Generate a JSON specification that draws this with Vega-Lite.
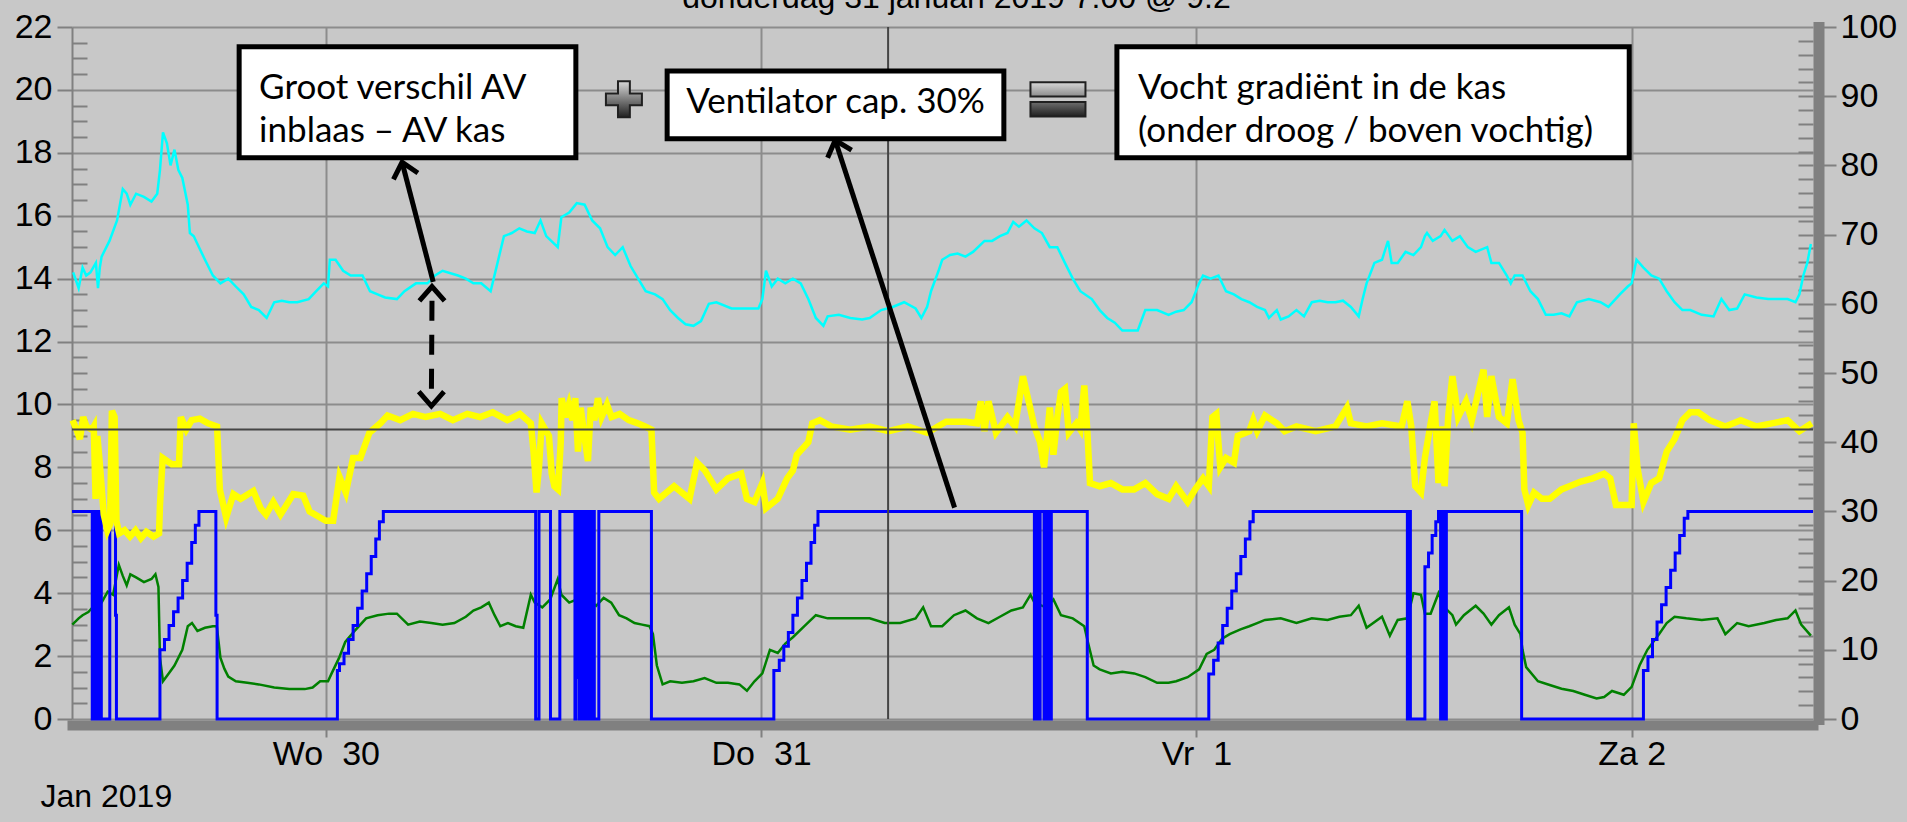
{
"$schema": "https://vega.github.io/schema/vega-lite/v6.json",
"autosize": {"type": "none"},
"width": 1741,
"height": 692,
"padding": {"left": 72, "top": 27, "right": 94, "bottom": 103},
"background": "#c8c8c8",
"title": {"text": "donderdag 31 januari 2019 7:00 @ 9.2", "font": "Liberation Sans", "fontSize": 32, "fontWeight": "normal", "color": "#000000", "anchor": "middle", "frame": "group", "baseline": "alphabetic", "offset": 0, "dy": 30, "dx": 14},
"config": {"view": {"stroke": null}, "font": "Liberation Sans", "axis": {"labelFont": "Liberation Sans", "labelFontSize": 34, "labelColor": "#000000", "titleFont": "Liberation Sans"}},
"datasets": {
"cyan": [
{"t":"2019-01-29T10:04","v":14.2},{"t":"2019-01-29T10:22","v":13.7},{"t":"2019-01-29T10:35","v":14.35},{"t":"2019-01-29T10:47","v":14.1},{"t":"2019-01-29T11:01","v":14.2},{"t":"2019-01-29T11:19","v":14.5},{"t":"2019-01-29T11:26","v":13.7},{"t":"2019-01-29T11:32","v":14.35},{"t":"2019-01-29T11:38","v":14.7},{"t":"2019-01-29T12:04","v":15.2},{"t":"2019-01-29T12:29","v":15.85},{"t":"2019-01-29T12:48","v":16.85},{"t":"2019-01-29T13:01","v":16.7},{"t":"2019-01-29T13:13","v":16.35},{"t":"2019-01-29T13:32","v":16.7},{"t":"2019-01-29T13:58","v":16.6},{"t":"2019-01-29T14:23","v":16.45},{"t":"2019-01-29T14:42","v":16.7},{"t":"2019-01-29T14:51","v":17.45},{"t":"2019-01-29T15:01","v":18.65},{"t":"2019-01-29T15:14","v":18.3},{"t":"2019-01-29T15:26","v":17.6},{"t":"2019-01-29T15:39","v":18.1},{"t":"2019-01-29T15:52","v":17.45},{"t":"2019-01-29T16:05","v":17.2},{"t":"2019-01-29T16:23","v":16.35},{"t":"2019-01-29T16:30","v":15.45},{"t":"2019-01-29T16:43","v":15.35},{"t":"2019-01-29T16:55","v":15.1},{"t":"2019-01-29T17:20","v":14.6},{"t":"2019-01-29T17:46","v":14.1},{"t":"2019-01-29T18:11","v":13.85},{"t":"2019-01-29T18:37","v":14.0},{"t":"2019-01-29T19:02","v":13.75},{"t":"2019-01-29T19:28","v":13.5},{"t":"2019-01-29T19:53","v":13.1},{"t":"2019-01-29T20:18","v":13.0},{"t":"2019-01-29T20:44","v":12.75},{"t":"2019-01-29T21:09","v":13.25},{"t":"2019-01-29T21:34","v":13.3},{"t":"2019-01-29T21:59","v":13.25},{"t":"2019-01-29T22:25","v":13.25},{"t":"2019-01-29T23:03","v":13.35},{"t":"2019-01-29T23:28","v":13.6},{"t":"2019-01-29T23:53","v":13.85},
{"t":"2019-01-30T00:07","v":13.75},{"t":"2019-01-30T00:13","v":14.6},{"t":"2019-01-30T00:32","v":14.6},{"t":"2019-01-30T00:57","v":14.25},{"t":"2019-01-30T01:22","v":14.1},{"t":"2019-01-30T02:01","v":14.1},{"t":"2019-01-30T02:26","v":13.6},{"t":"2019-01-30T02:51","v":13.5},{"t":"2019-01-30T03:16","v":13.4},{"t":"2019-01-30T03:55","v":13.35},{"t":"2019-01-30T04:20","v":13.6},{"t":"2019-01-30T04:58","v":13.85},{"t":"2019-01-30T05:36","v":13.85},{"t":"2019-01-30T06:01","v":14.1},{"t":"2019-01-30T06:26","v":14.25},{"t":"2019-01-30T07:17","v":14.1},{"t":"2019-01-30T07:43","v":14.0},{"t":"2019-01-30T08:08","v":13.85},{"t":"2019-01-30T08:34","v":13.85},{"t":"2019-01-30T09:05","v":13.6},{"t":"2019-01-30T09:24","v":14.35},{"t":"2019-01-30T09:49","v":15.35},{"t":"2019-01-30T10:15","v":15.45},{"t":"2019-01-30T10:40","v":15.6},{"t":"2019-01-30T11:05","v":15.5},{"t":"2019-01-30T11:31","v":15.45},{"t":"2019-01-30T11:50","v":15.85},{"t":"2019-01-30T12:09","v":15.35},{"t":"2019-01-30T12:47","v":15.0},{"t":"2019-01-30T12:59","v":15.95},{"t":"2019-01-30T13:25","v":16.1},{"t":"2019-01-30T13:50","v":16.4},{"t":"2019-01-30T14:16","v":16.35},{"t":"2019-01-30T14:41","v":15.85},{"t":"2019-01-30T15:07","v":15.6},{"t":"2019-01-30T15:32","v":15.0},{"t":"2019-01-30T15:57","v":14.75},{"t":"2019-01-30T16:22","v":15.0},{"t":"2019-01-30T16:48","v":14.4},{"t":"2019-01-30T17:13","v":14.0},{"t":"2019-01-30T17:38","v":13.6},{"t":"2019-01-30T18:09","v":13.5},{"t":"2019-01-30T18:34","v":13.35},{"t":"2019-01-30T18:59","v":13.0},{"t":"2019-01-30T19:25","v":12.75},{"t":"2019-01-30T19:50","v":12.55},{"t":"2019-01-30T20:16","v":12.5},{"t":"2019-01-30T20:41","v":12.65},{"t":"2019-01-30T21:07","v":13.2},{"t":"2019-01-30T21:32","v":13.25},{"t":"2019-01-30T22:22","v":13.05},{"t":"2019-01-30T23:13","v":13.05},{"t":"2019-01-30T23:51","v":13.05},
{"t":"2019-01-31T00:04","v":13.35},{"t":"2019-01-31T00:16","v":14.25},{"t":"2019-01-31T00:35","v":13.75},{"t":"2019-01-31T00:55","v":14.0},{"t":"2019-01-31T01:20","v":13.85},{"t":"2019-01-31T01:45","v":14.0},{"t":"2019-01-31T02:11","v":13.85},{"t":"2019-01-31T02:36","v":13.35},{"t":"2019-01-31T03:01","v":12.75},{"t":"2019-01-31T03:26","v":12.5},{"t":"2019-01-31T03:40","v":12.8},{"t":"2019-01-31T04:17","v":12.85},{"t":"2019-01-31T04:55","v":12.75},{"t":"2019-01-31T05:34","v":12.7},{"t":"2019-01-31T05:59","v":12.75},{"t":"2019-01-31T06:37","v":13.0},{"t":"2019-01-31T07:15","v":13.1},{"t":"2019-01-31T07:53","v":13.25},{"t":"2019-01-31T08:31","v":13.05},{"t":"2019-01-31T08:50","v":12.75},{"t":"2019-01-31T09:09","v":13.1},{"t":"2019-01-31T09:22","v":13.6},{"t":"2019-01-31T09:47","v":14.25},{"t":"2019-01-31T09:59","v":14.6},{"t":"2019-01-31T10:25","v":14.75},{"t":"2019-01-31T10:50","v":14.8},{"t":"2019-01-31T11:16","v":14.7},{"t":"2019-01-31T11:41","v":14.85},{"t":"2019-01-31T12:19","v":15.2},{"t":"2019-01-31T12:44","v":15.2},{"t":"2019-01-31T13:10","v":15.35},{"t":"2019-01-31T13:35","v":15.45},{"t":"2019-01-31T13:54","v":15.8},{"t":"2019-01-31T14:13","v":15.65},{"t":"2019-01-31T14:38","v":15.85},{"t":"2019-01-31T15:04","v":15.6},{"t":"2019-01-31T15:29","v":15.45},{"t":"2019-01-31T15:55","v":15.0},{"t":"2019-01-31T16:20","v":15.0},{"t":"2019-01-31T16:45","v":14.5},{"t":"2019-01-31T17:11","v":14.0},{"t":"2019-01-31T17:36","v":13.6},{"t":"2019-01-31T18:14","v":13.35},{"t":"2019-01-31T18:40","v":13.0},{"t":"2019-01-31T19:05","v":12.75},{"t":"2019-01-31T19:30","v":12.6},{"t":"2019-01-31T19:55","v":12.35},{"t":"2019-01-31T20:21","v":12.35},{"t":"2019-01-31T20:46","v":12.35},{"t":"2019-01-31T21:11","v":13.0},{"t":"2019-01-31T21:50","v":13.0},{"t":"2019-01-31T22:28","v":12.85},{"t":"2019-01-31T22:53","v":12.95},{"t":"2019-01-31T23:18","v":13.0},{"t":"2019-01-31T23:44","v":13.25},
{"t":"2019-02-01T00:09","v":13.85},{"t":"2019-02-01T00:22","v":14.1},{"t":"2019-02-01T00:47","v":14.0},{"t":"2019-02-01T01:13","v":14.1},{"t":"2019-02-01T01:38","v":13.6},{"t":"2019-02-01T02:04","v":13.5},{"t":"2019-02-01T02:29","v":13.35},{"t":"2019-02-01T02:55","v":13.25},{"t":"2019-02-01T03:21","v":13.1},{"t":"2019-02-01T03:47","v":13.0},{"t":"2019-02-01T04:00","v":12.75},{"t":"2019-02-01T04:26","v":13.0},{"t":"2019-02-01T04:39","v":12.7},{"t":"2019-02-01T05:05","v":12.8},{"t":"2019-02-01T05:31","v":13.0},{"t":"2019-02-01T05:56","v":12.8},{"t":"2019-02-01T06:22","v":13.25},{"t":"2019-02-01T06:48","v":13.3},{"t":"2019-02-01T07:14","v":13.25},{"t":"2019-02-01T07:40","v":13.25},{"t":"2019-02-01T08:05","v":13.3},{"t":"2019-02-01T08:31","v":13.1},{"t":"2019-02-01T08:57","v":12.8},{"t":"2019-02-01T09:10","v":13.35},{"t":"2019-02-01T09:23","v":13.85},{"t":"2019-02-01T09:49","v":14.5},{"t":"2019-02-01T10:14","v":14.6},{"t":"2019-02-01T10:34","v":15.2},{"t":"2019-02-01T10:46","v":14.5},{"t":"2019-02-01T11:06","v":14.5},{"t":"2019-02-01T11:32","v":14.85},{"t":"2019-02-01T11:58","v":14.75},{"t":"2019-02-01T12:23","v":15.0},{"t":"2019-02-01T12:36","v":15.35},{"t":"2019-02-01T12:43","v":15.45},{"t":"2019-02-01T13:02","v":15.2},{"t":"2019-02-01T13:28","v":15.35},{"t":"2019-02-01T13:41","v":15.55},{"t":"2019-02-01T14:07","v":15.2},{"t":"2019-02-01T14:32","v":15.35},{"t":"2019-02-01T14:58","v":15.0},{"t":"2019-02-01T15:24","v":14.85},{"t":"2019-02-01T16:02","v":15.0},{"t":"2019-02-01T16:16","v":14.5},{"t":"2019-02-01T16:41","v":14.5},{"t":"2019-02-01T17:07","v":14.1},{"t":"2019-02-01T17:20","v":13.85},{"t":"2019-02-01T17:33","v":14.1},{"t":"2019-02-01T17:59","v":14.1},{"t":"2019-02-01T18:25","v":13.6},{"t":"2019-02-01T18:50","v":13.35},{"t":"2019-02-01T19:16","v":12.85},{"t":"2019-02-01T19:42","v":12.85},{"t":"2019-02-01T20:08","v":12.9},{"t":"2019-02-01T20:34","v":12.8},{"t":"2019-02-01T20:59","v":13.25},{"t":"2019-02-01T21:38","v":13.35},{"t":"2019-02-01T22:17","v":13.25},{"t":"2019-02-01T22:43","v":13.1},{"t":"2019-02-01T23:21","v":13.5},{"t":"2019-02-01T23:47","v":13.75},
{"t":"2019-02-02T00:00","v":13.85},{"t":"2019-02-02T00:16","v":14.6},{"t":"2019-02-02T00:39","v":14.35},{"t":"2019-02-02T01:05","v":14.1},{"t":"2019-02-02T01:31","v":14.0},{"t":"2019-02-02T01:56","v":13.6},{"t":"2019-02-02T02:22","v":13.25},{"t":"2019-02-02T02:48","v":13.0},{"t":"2019-02-02T03:14","v":13.0},{"t":"2019-02-02T03:52","v":12.85},{"t":"2019-02-02T04:31","v":12.8},{"t":"2019-02-02T04:57","v":13.35},{"t":"2019-02-02T05:23","v":13.0},{"t":"2019-02-02T05:49","v":13.05},{"t":"2019-02-02T06:14","v":13.5},{"t":"2019-02-02T06:53","v":13.4},{"t":"2019-02-02T07:32","v":13.35},{"t":"2019-02-02T08:10","v":13.35},{"t":"2019-02-02T08:36","v":13.35},{"t":"2019-02-02T09:02","v":13.25},{"t":"2019-02-02T09:15","v":13.5},{"t":"2019-02-02T09:28","v":14.1},{"t":"2019-02-02T09:41","v":14.5},{"t":"2019-02-02T09:53","v":15.1}
],
"yellow": [
{"t":"2019-01-29T10:02","v":9.5},{"t":"2019-01-29T10:15","v":9.2},{"t":"2019-01-29T10:26","v":8.9},{"t":"2019-01-29T10:37","v":9.6},{"t":"2019-01-29T10:48","v":9.3},{"t":"2019-01-29T11:06","v":9.2},{"t":"2019-01-29T11:12","v":9.3},{"t":"2019-01-29T11:18","v":7.0},{"t":"2019-01-29T11:24","v":9.0},{"t":"2019-01-29T11:33","v":8.0},{"t":"2019-01-29T11:45","v":6.5},{"t":"2019-01-29T11:57","v":6.0},{"t":"2019-01-29T12:06","v":6.2},{"t":"2019-01-29T12:12","v":9.8},{"t":"2019-01-29T12:21","v":9.6},{"t":"2019-01-29T12:27","v":6.3},{"t":"2019-01-29T12:36","v":5.9},{"t":"2019-01-29T12:54","v":6.0},{"t":"2019-01-29T13:12","v":5.8},{"t":"2019-01-29T13:30","v":6.0},{"t":"2019-01-29T13:48","v":5.75},{"t":"2019-01-29T14:06","v":5.95},{"t":"2019-01-29T14:30","v":5.8},{"t":"2019-01-29T14:48","v":5.9},{"t":"2019-01-29T14:51","v":6.8},{"t":"2019-01-29T15:00","v":8.3},{"t":"2019-01-29T15:30","v":8.1},{"t":"2019-01-29T15:54","v":8.1},{"t":"2019-01-29T16:00","v":9.6},{"t":"2019-01-29T16:18","v":9.2},{"t":"2019-01-29T16:36","v":9.5},{"t":"2019-01-29T17:03","v":9.55},{"t":"2019-01-29T17:30","v":9.4},{"t":"2019-01-29T18:00","v":9.3},{"t":"2019-01-29T18:09","v":7.3},{"t":"2019-01-29T18:30","v":6.4},{"t":"2019-01-29T18:54","v":7.15},{"t":"2019-01-29T19:18","v":7.0},{"t":"2019-01-29T20:00","v":7.25},{"t":"2019-01-29T20:24","v":6.7},{"t":"2019-01-29T20:42","v":6.5},{"t":"2019-01-29T21:06","v":6.9},{"t":"2019-01-29T21:30","v":6.5},{"t":"2019-01-29T22:12","v":7.15},{"t":"2019-01-29T22:45","v":7.1},{"t":"2019-01-29T23:06","v":6.6},{"t":"2019-01-29T23:42","v":6.4},
{"t":"2019-01-30T00:00","v":6.3},{"t":"2019-01-30T00:24","v":6.3},{"t":"2019-01-30T00:45","v":7.7},{"t":"2019-01-30T01:06","v":7.2},{"t":"2019-01-30T01:30","v":8.3},{"t":"2019-01-30T01:54","v":8.3},{"t":"2019-01-30T02:24","v":9.1},{"t":"2019-01-30T03:00","v":9.4},{"t":"2019-01-30T03:24","v":9.65},{"t":"2019-01-30T04:06","v":9.5},{"t":"2019-01-30T04:48","v":9.7},{"t":"2019-01-30T05:30","v":9.6},{"t":"2019-01-30T06:18","v":9.7},{"t":"2019-01-30T07:00","v":9.5},{"t":"2019-01-30T07:48","v":9.7},{"t":"2019-01-30T08:30","v":9.6},{"t":"2019-01-30T09:12","v":9.75},{"t":"2019-01-30T10:00","v":9.5},{"t":"2019-01-30T10:42","v":9.7},{"t":"2019-01-30T11:18","v":9.4},{"t":"2019-01-30T11:27","v":8.5},{"t":"2019-01-30T11:37","v":7.2},{"t":"2019-01-30T11:45","v":8.0},{"t":"2019-01-30T11:54","v":9.4},{"t":"2019-01-30T12:06","v":9.2},{"t":"2019-01-30T12:18","v":9.0},{"t":"2019-01-30T12:27","v":7.8},{"t":"2019-01-30T12:36","v":7.4},{"t":"2019-01-30T12:48","v":7.3},{"t":"2019-01-30T12:57","v":8.8},{"t":"2019-01-30T13:00","v":10.2},{"t":"2019-01-30T13:12","v":9.6},{"t":"2019-01-30T13:24","v":10.0},{"t":"2019-01-30T13:36","v":9.5},{"t":"2019-01-30T13:45","v":10.2},{"t":"2019-01-30T13:54","v":8.5},{"t":"2019-01-30T14:03","v":9.9},{"t":"2019-01-30T14:15","v":9.0},{"t":"2019-01-30T14:27","v":8.2},{"t":"2019-01-30T14:36","v":9.9},{"t":"2019-01-30T14:48","v":9.5},{"t":"2019-01-30T15:00","v":10.2},{"t":"2019-01-30T15:12","v":9.6},{"t":"2019-01-30T15:30","v":10.0},{"t":"2019-01-30T15:45","v":9.6},{"t":"2019-01-30T16:12","v":9.7},{"t":"2019-01-30T16:42","v":9.5},{"t":"2019-01-30T17:12","v":9.4},{"t":"2019-01-30T17:36","v":9.3},{"t":"2019-01-30T17:57","v":9.2},{"t":"2019-01-30T18:06","v":7.2},{"t":"2019-01-30T18:22","v":7.0},{"t":"2019-01-30T19:12","v":7.4},{"t":"2019-01-30T20:03","v":7.0},{"t":"2019-01-30T20:28","v":8.15},{"t":"2019-01-30T20:54","v":7.9},{"t":"2019-01-30T21:32","v":7.3},{"t":"2019-01-30T22:10","v":7.65},{"t":"2019-01-30T22:54","v":7.8},{"t":"2019-01-30T23:13","v":7.0},{"t":"2019-01-30T23:38","v":6.9},
{"t":"2019-01-31T00:04","v":7.5},{"t":"2019-01-31T00:16","v":6.7},{"t":"2019-01-31T00:55","v":7.0},{"t":"2019-01-31T01:26","v":7.65},{"t":"2019-01-31T01:45","v":7.9},{"t":"2019-01-31T01:58","v":8.4},{"t":"2019-01-31T02:36","v":8.8},{"t":"2019-01-31T02:49","v":9.4},{"t":"2019-01-31T03:14","v":9.5},{"t":"2019-01-31T03:52","v":9.3},{"t":"2019-01-31T04:55","v":9.2},{"t":"2019-01-31T05:59","v":9.3},{"t":"2019-01-31T07:02","v":9.15},{"t":"2019-01-31T08:05","v":9.3},{"t":"2019-01-31T09:09","v":9.1},{"t":"2019-01-31T10:12","v":9.45},{"t":"2019-01-31T11:16","v":9.45},{"t":"2019-01-31T11:54","v":9.4},{"t":"2019-01-31T12:07","v":10.1},{"t":"2019-01-31T12:19","v":9.15},{"t":"2019-01-31T12:32","v":10.1},{"t":"2019-01-31T12:57","v":9.1},{"t":"2019-01-31T13:35","v":9.6},{"t":"2019-01-31T14:00","v":9.3},{"t":"2019-01-31T14:26","v":10.9},{"t":"2019-01-31T14:38","v":10.4},{"t":"2019-01-31T15:04","v":9.3},{"t":"2019-01-31T15:23","v":8.8},{"t":"2019-01-31T15:36","v":8.0},{"t":"2019-01-31T15:55","v":9.9},{"t":"2019-01-31T16:07","v":8.4},{"t":"2019-01-31T16:20","v":9.6},{"t":"2019-01-31T16:32","v":10.4},{"t":"2019-01-31T16:45","v":10.5},{"t":"2019-01-31T16:58","v":9.1},{"t":"2019-01-31T17:23","v":9.4},{"t":"2019-01-31T17:36","v":9.2},{"t":"2019-01-31T17:49","v":10.6},{"t":"2019-01-31T17:59","v":9.2},{"t":"2019-01-31T18:08","v":7.5},{"t":"2019-01-31T18:40","v":7.4},{"t":"2019-01-31T19:17","v":7.5},{"t":"2019-01-31T19:55","v":7.3},{"t":"2019-01-31T20:34","v":7.3},{"t":"2019-01-31T21:11","v":7.5},{"t":"2019-01-31T21:50","v":7.15},{"t":"2019-01-31T22:28","v":7.0},{"t":"2019-01-31T22:53","v":7.4},{"t":"2019-01-31T23:31","v":6.9},{"t":"2019-01-31T23:56","v":7.3},
{"t":"2019-02-01T00:22","v":7.65},{"t":"2019-02-01T00:41","v":7.4},{"t":"2019-02-01T00:53","v":9.6},{"t":"2019-02-01T01:06","v":9.7},{"t":"2019-02-01T01:19","v":8.0},{"t":"2019-02-01T01:38","v":8.3},{"t":"2019-02-01T02:04","v":8.15},{"t":"2019-02-01T02:17","v":9.0},{"t":"2019-02-01T02:55","v":9.15},{"t":"2019-02-01T03:08","v":9.5},{"t":"2019-02-01T03:21","v":9.15},{"t":"2019-02-01T03:47","v":9.65},{"t":"2019-02-01T04:26","v":9.4},{"t":"2019-02-01T04:52","v":9.15},{"t":"2019-02-01T05:31","v":9.3},{"t":"2019-02-01T06:35","v":9.15},{"t":"2019-02-01T07:40","v":9.3},{"t":"2019-02-01T08:18","v":9.9},{"t":"2019-02-01T08:31","v":9.4},{"t":"2019-02-01T09:23","v":9.3},{"t":"2019-02-01T10:14","v":9.4},{"t":"2019-02-01T11:19","v":9.3},{"t":"2019-02-01T11:38","v":10.1},{"t":"2019-02-01T11:51","v":9.3},{"t":"2019-02-01T12:04","v":7.4},{"t":"2019-02-01T12:23","v":7.2},{"t":"2019-02-01T12:36","v":8.3},{"t":"2019-02-01T12:55","v":9.4},{"t":"2019-02-01T13:08","v":10.1},{"t":"2019-02-01T13:21","v":7.5},{"t":"2019-02-01T13:34","v":9.3},{"t":"2019-02-01T13:41","v":7.4},{"t":"2019-02-01T13:53","v":9.6},{"t":"2019-02-01T14:07","v":10.9},{"t":"2019-02-01T14:26","v":9.6},{"t":"2019-02-01T14:52","v":10.1},{"t":"2019-02-01T15:11","v":9.5},{"t":"2019-02-01T15:50","v":11.1},{"t":"2019-02-01T16:02","v":9.6},{"t":"2019-02-01T16:16","v":10.9},{"t":"2019-02-01T16:41","v":9.6},{"t":"2019-02-01T17:07","v":9.4},{"t":"2019-02-01T17:26","v":10.8},{"t":"2019-02-01T17:46","v":9.5},{"t":"2019-02-01T17:59","v":9.1},{"t":"2019-02-01T18:05","v":7.3},{"t":"2019-02-01T18:18","v":6.8},{"t":"2019-02-01T18:37","v":7.2},{"t":"2019-02-01T19:03","v":7.0},{"t":"2019-02-01T19:29","v":7.0},{"t":"2019-02-01T20:08","v":7.3},{"t":"2019-02-01T20:34","v":7.4},{"t":"2019-02-01T21:12","v":7.55},{"t":"2019-02-01T21:51","v":7.65},{"t":"2019-02-01T22:29","v":7.8},{"t":"2019-02-01T22:49","v":7.65},{"t":"2019-02-01T23:08","v":6.8},{"t":"2019-02-01T23:47","v":6.8},
{"t":"2019-02-02T00:00","v":6.8},{"t":"2019-02-02T00:07","v":9.4},{"t":"2019-02-02T00:19","v":8.0},{"t":"2019-02-02T00:39","v":6.9},{"t":"2019-02-02T01:05","v":7.5},{"t":"2019-02-02T01:31","v":7.65},{"t":"2019-02-02T01:56","v":8.5},{"t":"2019-02-02T02:22","v":8.9},{"t":"2019-02-02T02:48","v":9.5},{"t":"2019-02-02T03:14","v":9.75},{"t":"2019-02-02T03:40","v":9.75},{"t":"2019-02-02T04:18","v":9.5},{"t":"2019-02-02T05:10","v":9.3},{"t":"2019-02-02T06:01","v":9.5},{"t":"2019-02-02T06:53","v":9.3},{"t":"2019-02-02T07:44","v":9.4},{"t":"2019-02-02T08:36","v":9.5},{"t":"2019-02-02T09:15","v":9.15},{"t":"2019-02-02T09:56","v":9.4}
],
"green": [
{"t":"2019-01-29T10:01","v":3.0},{"t":"2019-01-29T10:22","v":3.2},{"t":"2019-01-29T10:35","v":3.3},{"t":"2019-01-29T10:54","v":3.4},{"t":"2019-01-29T11:13","v":3.6},{"t":"2019-01-29T11:38","v":3.7},{"t":"2019-01-29T11:58","v":4.05},{"t":"2019-01-29T12:16","v":3.95},{"t":"2019-01-29T12:35","v":4.9},{"t":"2019-01-29T12:48","v":4.55},{"t":"2019-01-29T13:01","v":4.25},{"t":"2019-01-29T13:13","v":4.6},{"t":"2019-01-29T13:32","v":4.5},{"t":"2019-01-29T13:58","v":4.35},{"t":"2019-01-29T14:23","v":4.45},{"t":"2019-01-29T14:36","v":4.6},{"t":"2019-01-29T14:46","v":4.2},{"t":"2019-01-29T14:51","v":1.95},{"t":"2019-01-29T15:01","v":1.2},{"t":"2019-01-29T15:20","v":1.45},{"t":"2019-01-29T15:39","v":1.7},{"t":"2019-01-29T16:05","v":2.2},{"t":"2019-01-29T16:23","v":2.95},{"t":"2019-01-29T16:37","v":3.05},{"t":"2019-01-29T16:55","v":2.8},{"t":"2019-01-29T17:20","v":2.9},{"t":"2019-01-29T17:46","v":2.95},{"t":"2019-01-29T17:59","v":2.95},{"t":"2019-01-29T18:11","v":1.95},{"t":"2019-01-29T18:24","v":1.6},{"t":"2019-01-29T18:37","v":1.35},{"t":"2019-01-29T19:02","v":1.2},{"t":"2019-01-29T19:40","v":1.15},{"t":"2019-01-29T20:18","v":1.1},{"t":"2019-01-29T21:09","v":1.0},{"t":"2019-01-29T21:59","v":0.95},{"t":"2019-01-29T22:50","v":0.95},{"t":"2019-01-29T23:16","v":1.0},{"t":"2019-01-29T23:41","v":1.2},
{"t":"2019-01-30T00:07","v":1.2},{"t":"2019-01-30T00:19","v":1.45},{"t":"2019-01-30T00:44","v":1.95},{"t":"2019-01-30T01:04","v":2.45},{"t":"2019-01-30T01:35","v":2.8},{"t":"2019-01-30T02:13","v":3.2},{"t":"2019-01-30T02:51","v":3.3},{"t":"2019-01-30T03:29","v":3.35},{"t":"2019-01-30T03:55","v":3.35},{"t":"2019-01-30T04:32","v":3.0},{"t":"2019-01-30T05:11","v":3.1},{"t":"2019-01-30T05:49","v":3.05},{"t":"2019-01-30T06:26","v":3.0},{"t":"2019-01-30T07:05","v":3.05},{"t":"2019-01-30T07:43","v":3.25},{"t":"2019-01-30T08:08","v":3.45},{"t":"2019-01-30T08:34","v":3.55},{"t":"2019-01-30T08:59","v":3.7},{"t":"2019-01-30T09:18","v":3.3},{"t":"2019-01-30T09:37","v":2.95},{"t":"2019-01-30T10:02","v":3.05},{"t":"2019-01-30T10:28","v":2.95},{"t":"2019-01-30T10:53","v":2.9},{"t":"2019-01-30T11:18","v":3.95},{"t":"2019-01-30T11:31","v":3.7},{"t":"2019-01-30T11:56","v":3.55},{"t":"2019-01-30T12:22","v":3.8},{"t":"2019-01-30T12:47","v":4.45},{"t":"2019-01-30T12:59","v":3.95},{"t":"2019-01-30T13:25","v":3.7},{"t":"2019-01-30T14:03","v":3.85},{"t":"2019-01-30T14:28","v":3.8},{"t":"2019-01-30T14:54","v":3.6},{"t":"2019-01-30T15:19","v":3.85},{"t":"2019-01-30T15:44","v":3.7},{"t":"2019-01-30T16:10","v":3.3},{"t":"2019-01-30T16:35","v":3.2},{"t":"2019-01-30T17:01","v":3.05},{"t":"2019-01-30T17:26","v":3.0},{"t":"2019-01-30T17:51","v":2.95},{"t":"2019-01-30T18:02","v":2.7},{"t":"2019-01-30T18:15","v":1.7},{"t":"2019-01-30T18:34","v":1.1},{"t":"2019-01-30T18:59","v":1.2},{"t":"2019-01-30T19:38","v":1.15},{"t":"2019-01-30T20:16","v":1.2},{"t":"2019-01-30T20:53","v":1.3},{"t":"2019-01-30T21:32","v":1.15},{"t":"2019-01-30T22:10","v":1.15},{"t":"2019-01-30T22:48","v":1.1},{"t":"2019-01-30T23:13","v":0.9},{"t":"2019-01-30T23:38","v":1.2},
{"t":"2019-01-31T00:04","v":1.45},{"t":"2019-01-31T00:29","v":2.2},{"t":"2019-01-31T00:55","v":2.1},{"t":"2019-01-31T01:20","v":2.4},{"t":"2019-01-31T01:45","v":2.6},{"t":"2019-01-31T02:23","v":2.95},{"t":"2019-01-31T03:01","v":3.3},{"t":"2019-01-31T03:40","v":3.2},{"t":"2019-01-31T04:17","v":3.2},{"t":"2019-01-31T05:08","v":3.2},{"t":"2019-01-31T05:59","v":3.2},{"t":"2019-01-31T06:49","v":3.05},{"t":"2019-01-31T07:40","v":3.05},{"t":"2019-01-31T08:31","v":3.2},{"t":"2019-01-31T08:56","v":3.55},{"t":"2019-01-31T09:22","v":2.95},{"t":"2019-01-31T09:59","v":2.95},{"t":"2019-01-31T10:38","v":3.3},{"t":"2019-01-31T11:16","v":3.45},{"t":"2019-01-31T11:54","v":3.2},{"t":"2019-01-31T12:32","v":3.05},{"t":"2019-01-31T13:10","v":3.25},{"t":"2019-01-31T13:48","v":3.45},{"t":"2019-01-31T14:26","v":3.55},{"t":"2019-01-31T14:51","v":3.95},{"t":"2019-01-31T15:04","v":3.7},{"t":"2019-01-31T15:42","v":3.55},{"t":"2019-01-31T16:07","v":3.8},{"t":"2019-01-31T16:32","v":3.3},{"t":"2019-01-31T17:11","v":3.2},{"t":"2019-01-31T17:49","v":2.95},{"t":"2019-01-31T18:01","v":2.45},{"t":"2019-01-31T18:20","v":1.7},{"t":"2019-01-31T18:40","v":1.58},{"t":"2019-01-31T19:17","v":1.45},{"t":"2019-01-31T19:55","v":1.5},{"t":"2019-01-31T20:34","v":1.45},{"t":"2019-01-31T21:11","v":1.33},{"t":"2019-01-31T21:50","v":1.15},{"t":"2019-01-31T22:28","v":1.15},{"t":"2019-01-31T22:53","v":1.2},{"t":"2019-01-31T23:31","v":1.33},
{"t":"2019-02-01T00:09","v":1.58},{"t":"2019-02-01T00:34","v":2.07},{"t":"2019-02-01T00:59","v":2.2},{"t":"2019-02-01T01:25","v":2.55},{"t":"2019-02-01T01:50","v":2.7},{"t":"2019-02-01T02:26","v":2.85},{"t":"2019-02-01T02:55","v":2.95},{"t":"2019-02-01T03:21","v":3.05},{"t":"2019-02-01T03:47","v":3.15},{"t":"2019-02-01T04:39","v":3.2},{"t":"2019-02-01T05:31","v":3.05},{"t":"2019-02-01T06:22","v":3.2},{"t":"2019-02-01T07:14","v":3.15},{"t":"2019-02-01T07:53","v":3.25},{"t":"2019-02-01T08:31","v":3.3},{"t":"2019-02-01T08:57","v":3.6},{"t":"2019-02-01T09:23","v":2.9},{"t":"2019-02-01T10:14","v":3.25},{"t":"2019-02-01T10:40","v":2.65},{"t":"2019-02-01T11:06","v":3.15},{"t":"2019-02-01T11:38","v":3.2},{"t":"2019-02-01T11:58","v":4.0},{"t":"2019-02-01T12:23","v":3.95},{"t":"2019-02-01T12:36","v":3.35},{"t":"2019-02-01T12:55","v":3.35},{"t":"2019-02-01T13:21","v":4.0},{"t":"2019-02-01T13:41","v":3.55},{"t":"2019-02-01T14:07","v":3.3},{"t":"2019-02-01T14:19","v":3.0},{"t":"2019-02-01T14:45","v":3.3},{"t":"2019-02-01T15:24","v":3.6},{"t":"2019-02-01T15:50","v":3.35},{"t":"2019-02-01T16:16","v":3.0},{"t":"2019-02-01T16:41","v":3.3},{"t":"2019-02-01T17:14","v":3.55},{"t":"2019-02-01T17:33","v":3.0},{"t":"2019-02-01T17:52","v":2.7},{"t":"2019-02-01T17:59","v":2.2},{"t":"2019-02-01T18:11","v":1.65},{"t":"2019-02-01T18:50","v":1.2},{"t":"2019-02-01T19:29","v":1.08},{"t":"2019-02-01T20:08","v":0.96},{"t":"2019-02-01T20:47","v":0.89},{"t":"2019-02-01T21:25","v":0.77},{"t":"2019-02-01T22:04","v":0.65},{"t":"2019-02-01T22:29","v":0.7},{"t":"2019-02-01T22:55","v":0.89},{"t":"2019-02-01T23:34","v":0.77},
{"t":"2019-02-02T00:00","v":1.02},{"t":"2019-02-02T00:26","v":1.7},{"t":"2019-02-02T00:52","v":2.2},{"t":"2019-02-02T01:31","v":2.7},{"t":"2019-02-02T01:56","v":3.05},{"t":"2019-02-02T02:22","v":3.25},{"t":"2019-02-02T03:01","v":3.2},{"t":"2019-02-02T03:52","v":3.15},{"t":"2019-02-02T04:44","v":3.2},{"t":"2019-02-02T05:10","v":2.7},{"t":"2019-02-02T05:49","v":3.05},{"t":"2019-02-02T06:27","v":2.95},{"t":"2019-02-02T07:19","v":3.05},{"t":"2019-02-02T07:58","v":3.15},{"t":"2019-02-02T08:36","v":3.2},{"t":"2019-02-02T09:02","v":3.45},{"t":"2019-02-02T09:21","v":3.0},{"t":"2019-02-02T09:53","v":2.65}
],
"blue": [
{"t":"2019-01-29T10:00","v":30},{"t":"2019-01-29T11:07","v":0},{"t":"2019-01-29T11:10","v":30},{"t":"2019-01-29T11:12","v":0},{"t":"2019-01-29T11:15","v":30},{"t":"2019-01-29T11:17","v":0},{"t":"2019-01-29T11:20","v":30},{"t":"2019-01-29T11:22","v":0},{"t":"2019-01-29T11:25","v":30},{"t":"2019-01-29T11:27","v":0},{"t":"2019-01-29T11:30","v":30},{"t":"2019-01-29T11:32","v":0},{"t":"2019-01-29T11:35","v":30},{"t":"2019-01-29T11:37","v":0},{"t":"2019-01-29T12:05","v":30},{"t":"2019-01-29T12:24","v":15},{"t":"2019-01-29T12:27","v":0},
{"t":"2019-01-29T14:51","v":10},{"t":"2019-01-29T15:06","v":11.5},{"t":"2019-01-29T15:21","v":13.5},{"t":"2019-01-29T15:36","v":15.5},{"t":"2019-01-29T15:51","v":17.5},{"t":"2019-01-29T16:06","v":20},{"t":"2019-01-29T16:21","v":22.5},{"t":"2019-01-29T16:36","v":25.5},{"t":"2019-01-29T16:48","v":28},{"t":"2019-01-29T17:00","v":30},{"t":"2019-01-29T17:56","v":15},{"t":"2019-01-29T18:00","v":0},
{"t":"2019-01-30T00:38","v":7},{"t":"2019-01-30T00:45","v":8},{"t":"2019-01-30T01:00","v":9.5},{"t":"2019-01-30T01:15","v":11.5},{"t":"2019-01-30T01:30","v":13.5},{"t":"2019-01-30T01:45","v":16},{"t":"2019-01-30T02:00","v":18.5},{"t":"2019-01-30T02:15","v":21},{"t":"2019-01-30T02:30","v":23.5},{"t":"2019-01-30T02:45","v":26},{"t":"2019-01-30T02:57","v":28.5},{"t":"2019-01-30T03:10","v":30},
{"t":"2019-01-30T11:34","v":0},{"t":"2019-01-30T11:45","v":30},{"t":"2019-01-30T12:23","v":0},{"t":"2019-01-30T12:54","v":30},{"t":"2019-01-30T13:44","v":0},{"t":"2019-01-30T13:47","v":30},{"t":"2019-01-30T13:51","v":6},{"t":"2019-01-30T13:54","v":30},{"t":"2019-01-30T13:58","v":0},{"t":"2019-01-30T14:01","v":30},{"t":"2019-01-30T14:06","v":0},{"t":"2019-01-30T14:09","v":30},{"t":"2019-01-30T14:13","v":0},{"t":"2019-01-30T14:17","v":30},{"t":"2019-01-30T14:21","v":0},{"t":"2019-01-30T14:25","v":30},{"t":"2019-01-30T14:30","v":0},{"t":"2019-01-30T14:34","v":30},{"t":"2019-01-30T14:39","v":0},{"t":"2019-01-30T14:43","v":30},{"t":"2019-01-30T14:48","v":0},{"t":"2019-01-30T15:03","v":30},{"t":"2019-01-30T17:57","v":0},
{"t":"2019-01-31T00:42","v":7},{"t":"2019-01-31T01:00","v":8.5},{"t":"2019-01-31T01:15","v":10.5},{"t":"2019-01-31T01:30","v":12.5},{"t":"2019-01-31T01:45","v":15},{"t":"2019-01-31T02:00","v":17.5},{"t":"2019-01-31T02:15","v":20},{"t":"2019-01-31T02:30","v":22.5},{"t":"2019-01-31T02:45","v":25.5},{"t":"2019-01-31T02:57","v":28},{"t":"2019-01-31T03:08","v":30},
{"t":"2019-01-31T15:04","v":0},{"t":"2019-01-31T15:12","v":30},{"t":"2019-01-31T15:18","v":0},{"t":"2019-01-31T15:23","v":30},{"t":"2019-01-31T15:36","v":0},{"t":"2019-01-31T15:39","v":30},{"t":"2019-01-31T15:43","v":0},{"t":"2019-01-31T15:47","v":30},{"t":"2019-01-31T15:50","v":5},{"t":"2019-01-31T15:53","v":30},{"t":"2019-01-31T15:56","v":0},{"t":"2019-01-31T16:00","v":30},{"t":"2019-01-31T17:59","v":0},
{"t":"2019-02-01T00:41","v":6.5},{"t":"2019-02-01T00:57","v":8.5},{"t":"2019-02-01T01:12","v":11},{"t":"2019-02-01T01:27","v":13.5},{"t":"2019-02-01T01:42","v":16},{"t":"2019-02-01T01:57","v":18.5},{"t":"2019-02-01T02:12","v":21},{"t":"2019-02-01T02:27","v":23.5},{"t":"2019-02-01T02:42","v":26},{"t":"2019-02-01T02:57","v":28.5},{"t":"2019-02-01T03:08","v":30},
{"t":"2019-02-01T11:38","v":0},{"t":"2019-02-01T11:43","v":30},{"t":"2019-02-01T11:48","v":0},{"t":"2019-02-01T12:36","v":22},{"t":"2019-02-01T12:48","v":24},{"t":"2019-02-01T13:00","v":26.5},{"t":"2019-02-01T13:12","v":28.5},{"t":"2019-02-01T13:21","v":30},{"t":"2019-02-01T13:28","v":0},{"t":"2019-02-01T13:31","v":30},{"t":"2019-02-01T13:35","v":0},{"t":"2019-02-01T13:38","v":30},{"t":"2019-02-01T13:42","v":0},{"t":"2019-02-01T13:47","v":30},{"t":"2019-02-01T17:56","v":0},
{"t":"2019-02-02T00:39","v":7},{"t":"2019-02-02T00:54","v":9},{"t":"2019-02-02T01:09","v":11.5},{"t":"2019-02-02T01:24","v":14},{"t":"2019-02-02T01:39","v":16.5},{"t":"2019-02-02T01:54","v":19},{"t":"2019-02-02T02:09","v":21.5},{"t":"2019-02-02T02:24","v":24},{"t":"2019-02-02T02:39","v":26.5},{"t":"2019-02-02T02:54","v":29},{"t":"2019-02-02T03:06","v":30},{"t":"2019-02-02T10:00","v":30}
],
"boxes": [
{"t":"2019-01-29T19:13","t2":"2019-01-30T13:47","v":17.84,"v2":21.37},
{"t":"2019-01-30T18:49","t2":"2019-01-31T13:23","v":18.45,"v2":20.6},
{"t":"2019-01-31T19:37","t2":"2019-02-01T23:52","v":17.84,"v2":21.37}
],
"lefttext": [
{"t":"2019-01-29T20:19","v":20.05,"label":"Groot verschil AV"},
{"t":"2019-01-29T20:19","v":18.7,"label":"inblaas – AV kas"},
{"t":"2019-01-31T20:47","v":20.05,"label":"Vocht gradiënt in de kas"},
{"t":"2019-01-31T20:47","v":18.7,"label":"(onder droog / boven vochtig)"}
],
"centertext": [
{"t":"2019-01-31T04:06","v":19.6,"label":"Ventilator cap. 30%"}
],
"arrows": [
{"t":"2019-01-30T05:55","v":13.9,"t2":"2019-01-30T04:12","v2":17.7},
{"t":"2019-01-31T10:40","v":6.72,"t2":"2019-01-31T04:05","v2":18.4}
],
"dashed": [
{"t":"2019-01-30T05:51","v":13.3,"t2":"2019-01-30T05:49","v2":10.2}
]
},
"layer": [
{
"data": {"name": "green"},
"mark": {"type": "line", "color": "#008000", "strokeWidth": 2.5},
"encoding": {
"x": {"field": "t", "type": "temporal",
"scale": {"domain": [{"year": 2019, "month": "jan", "date": 29, "hours": 10}, {"year": 2019, "month": "feb", "date": 2, "hours": 10}]},
"axis": {"values": [{"year": 2019, "month": "jan", "date": 30}, {"year": 2019, "month": "jan", "date": 31}, {"year": 2019, "month": "feb", "date": 1}, {"year": 2019, "month": "feb", "date": 2}],
"labelExpr": "['Zo','Ma','Di','Wo','Do','Vr','Za'][day(datum.value)] + (day(datum.value) == 6 ? ' ' : '\u00a0 ') + date(datum.value)",
"grid": true, "gridColor": "#8c8c8c", "gridWidth": 2,
"domain": true, "domainColor": "#808080", "domainWidth": 10, "domainCap": "square", "offset": 6,
"ticks": true, "tickSize": 12, "tickColor": "#808080", "tickWidth": 2,
"labelPadding": 0, "labelFontSize": 34, "labelColor": "#000000", "labelFlush": false, "labelOverlap": false,
"title": "Jan 2019", "titleFontSize": 32, "titleFontWeight": "normal", "titleColor": "#000000", "titleAnchor": "start", "titleAlign": "left", "titleBaseline": "alphabetic", "titleX": -32, "titleY": 81}},
"y": {"field": "v", "type": "quantitative",
"scale": {"domain": [0, 22], "nice": false, "zero": false},
"axis": {"orient": "left", "values": [0, 2, 4, 6, 8, 10, 12, 14, 16, 18, 20, 22],
"grid": true, "gridColor": "#8c8c8c", "gridWidth": 2,
"domain": true, "domainColor": "#808080", "domainWidth": 2,
"ticks": true, "tickSize": 15, "tickColor": "#808080", "tickWidth": 2,
"labelPadding": 5, "labelFontSize": 34, "labelColor": "#000000", "labelFlush": false, "labelOverlap": false,
"title": null}}
}
},
{
"data": {"name": "blue"},
"mark": {"type": "line", "color": "#0000ff", "strokeWidth": 3, "interpolate": "step-after"},
"encoding": {
"x": {"field": "t", "type": "temporal",
"scale": {"domain": [{"year": 2019, "month": "jan", "date": 29, "hours": 10}, {"year": 2019, "month": "feb", "date": 2, "hours": 10}]},
"axis": {"values": [{"year": 2019, "month": "jan", "date": 30}, {"year": 2019, "month": "jan", "date": 31}, {"year": 2019, "month": "feb", "date": 1}, {"year": 2019, "month": "feb", "date": 2}],
"labelExpr": "['Zo','Ma','Di','Wo','Do','Vr','Za'][day(datum.value)] + (day(datum.value) == 6 ? ' ' : '\u00a0 ') + date(datum.value)",
"grid": true, "gridColor": "#8c8c8c", "gridWidth": 2,
"domain": true, "domainColor": "#808080", "domainWidth": 10, "domainCap": "square", "offset": 6,
"ticks": true, "tickSize": 12, "tickColor": "#808080", "tickWidth": 2,
"labelPadding": 0, "labelFontSize": 34, "labelColor": "#000000", "labelFlush": false, "labelOverlap": false,
"title": "Jan 2019", "titleFontSize": 32, "titleFontWeight": "normal", "titleColor": "#000000", "titleAnchor": "start", "titleAlign": "left", "titleBaseline": "alphabetic", "titleX": -32, "titleY": 81}},
"y": {"field": "v", "type": "quantitative",
"scale": {"domain": [0, 100], "nice": false},
"axis": {"orient": "right", "values": [0, 10, 20, 30, 40, 50, 60, 70, 80, 90, 100],
"grid": false, "domain": true, "domainColor": "#808080", "domainWidth": 11, "domainCap": "square", "offset": 5.5,
"ticks": true, "tickSize": 17.5, "tickColor": "#808080", "tickWidth": 2,
"labelPadding": 4, "labelFontSize": 34, "labelColor": "#000000", "labelFlush": false, "labelOverlap": false,
"title": null}}
}
},
{
"encoding": {
"x": {"field": "t", "type": "temporal",
"scale": {"domain": [{"year": 2019, "month": "jan", "date": 29, "hours": 10}, {"year": 2019, "month": "feb", "date": 2, "hours": 10}]},
"axis": {"values": [{"year": 2019, "month": "jan", "date": 30}, {"year": 2019, "month": "jan", "date": 31}, {"year": 2019, "month": "feb", "date": 1}, {"year": 2019, "month": "feb", "date": 2}],
"labelExpr": "['Zo','Ma','Di','Wo','Do','Vr','Za'][day(datum.value)] + (day(datum.value) == 6 ? ' ' : '\u00a0 ') + date(datum.value)",
"grid": true, "gridColor": "#8c8c8c", "gridWidth": 2,
"domain": true, "domainColor": "#808080", "domainWidth": 10, "domainCap": "square", "offset": 6,
"ticks": true, "tickSize": 12, "tickColor": "#808080", "tickWidth": 2,
"labelPadding": 0, "labelFontSize": 34, "labelColor": "#000000", "labelFlush": false, "labelOverlap": false,
"title": "Jan 2019", "titleFontSize": 32, "titleFontWeight": "normal", "titleColor": "#000000", "titleAnchor": "start", "titleAlign": "left", "titleBaseline": "alphabetic", "titleX": -32, "titleY": 81}},
"y": {"field": "v", "type": "quantitative", "axis": null, "scale": {"domain": [0, 22], "nice": false, "zero": false}}
},
"layer": [
{"data": {"name": "cyan"}, "mark": {"type": "line", "color": "#00ffff", "strokeWidth": 2.5}},
{"data": {"name": "yellow"}, "mark": {"type": "line", "color": "#ffff00", "strokeWidth": 6.5}},
{"data": {"values": [{"v": 9.2}]}, "mark": {"type": "rule", "color": "#454545", "strokeWidth": 2},
"encoding": {"x": null, "y": {"field": "v", "type": "quantitative", "axis": null}}},
{"data": {"values": [{"t": "2019-01-31T07:00"}]}, "mark": {"type": "rule", "color": "#454545", "strokeWidth": 2},
"encoding": {"y": null}},
{"data": {"name": "arrows", "format": {"parse": {"t": "date", "t2": "date"}}}, "mark": {"type": "rule", "color": "#000000", "strokeWidth": 5},
"encoding": {"x2": {"field": "t2"}, "y2": {"field": "v2"}}},
{"data": {"name": "dashed", "format": {"parse": {"t": "date", "t2": "date"}}}, "mark": {"type": "rule", "color": "#000000", "strokeWidth": 5, "strokeDash": [20, 14]},
"encoding": {"x2": {"field": "t2"}, "y2": {"field": "v2"}}},
{"data": {"values": [{"t": "2019-01-30T04:12", "v": 17.7}]}, "mark": {"type": "point", "shape": "M-0.7,0.8L0,0L0.7,0.8", "filled": false, "color": "#000000", "strokeWidth": 5, "size": 1300, "opacity": 1, "angle": -14.5, "strokeJoin": "miter"}},
{"data": {"values": [{"t": "2019-01-31T04:05", "v": 18.4}]}, "mark": {"type": "point", "shape": "M-0.7,0.8L0,0L0.7,0.8", "filled": false, "color": "#000000", "strokeWidth": 5, "size": 1300, "opacity": 1, "angle": -17.9, "strokeJoin": "miter"}},
{"data": {"values": [{"t": "2019-01-30T05:51", "v": 13.75}]}, "mark": {"type": "point", "shape": "M-0.7,0.8L0,0L0.7,0.8", "filled": false, "color": "#000000", "strokeWidth": 5, "size": 1300, "opacity": 1, "angle": 0, "strokeJoin": "miter"}},
{"data": {"values": [{"t": "2019-01-30T05:49", "v": 9.95}]}, "mark": {"type": "point", "shape": "M-0.7,0.8L0,0L0.7,0.8", "filled": false, "color": "#000000", "strokeWidth": 5, "size": 1300, "opacity": 1, "angle": 180, "strokeJoin": "miter"}},
{"data": {"name": "boxes", "format": {"parse": {"t": "date", "t2": "date"}}}, "mark": {"type": "rect", "fill": "#ffffff", "stroke": "#000000", "strokeWidth": 5},
"encoding": {"x2": {"field": "t2"}, "y2": {"field": "v2"}}},
{"data": {"name": "lefttext"}, "mark": {"type": "text", "align": "left", "baseline": "middle", "font": "Lato", "fontSize": 35, "color": "#000000"},
"encoding": {"text": {"field": "label"}}},
{"data": {"name": "centertext"}, "mark": {"type": "text", "align": "center", "baseline": "middle", "font": "Lato", "fontSize": 35, "color": "#000000"},
"encoding": {"text": {"field": "label"}}},
{"data": {"values": [{"t": "2019-01-30T16:26", "v": 19.7}]}, "mark": {"type": "point", "shape": "M-0.33,-1H0.33V-0.33H1V0.33H0.33V1H-0.33V0.33H-1V-0.33H-0.33Z", "filled": true, "size": 1296, "opacity": 1,
"fill": {"gradient": "linear", "x1": 0, "y1": 0, "x2": 0, "y2": 1, "stops": [{"offset": 0, "color": "#d8d8d8"}, {"offset": 1, "color": "#202020"}]}, "stroke": "#202020", "strokeWidth": 2}},
{"data": {"values": [{"t": "2019-01-31T16:22", "v": 19.7}]}, "mark": {"type": "point", "shape": "M-1,-0.62H1V-0.1H-1Z M-1,0.1H1V0.62H-1Z", "filled": true, "size": 3025, "opacity": 1,
"fill": {"gradient": "linear", "x1": 0, "y1": 0, "x2": 0, "y2": 1, "stops": [{"offset": 0, "color": "#d8d8d8"}, {"offset": 1, "color": "#202020"}]}, "stroke": "#202020", "strokeWidth": 2}}
]
},
{
"data": {"values": [{"v": 0}]},
"mark": {"type": "rule", "opacity": 0},
"encoding": {"y": {"field": "v", "type": "quantitative", "scale": {"domain": [0, 22], "nice": false, "zero": false},
"axis": {"orient": "left", "values": [0.5, 1, 1.5, 2.5, 3, 3.5, 4.5, 5, 5.5, 6.5, 7, 7.5, 8.5, 9, 9.5, 10.5, 11, 11.5, 12.5, 13, 13.5, 14.5, 15, 15.5, 16.5, 17, 17.5, 18.5, 19, 19.5, 20.5, 21, 21.5],
"tickSize": -15, "tickColor": "#808080", "tickWidth": 2, "labels": false, "domain": false, "grid": false, "title": null}}}
},
{
"data": {"values": [{"v": 0}]},
"mark": {"type": "rule", "opacity": 0},
"encoding": {"y": {"field": "v", "type": "quantitative", "scale": {"domain": [0, 100], "nice": false},
"axis": {"orient": "right", "values": [2, 4, 6, 8, 10, 12, 14, 16, 18, 20, 22, 24, 26, 28, 30, 32, 34, 36, 38, 40, 42, 44, 46, 48, 50, 52, 54, 56, 58, 60, 62, 64, 66, 68, 70, 72, 74, 76, 78, 80, 82, 84, 86, 88, 90, 92, 94, 96, 98],
"tickSize": -15, "tickColor": "#808080", "tickWidth": 2, "labels": false, "domain": false, "grid": false, "title": null}}}
}
],
"resolve": {"scale": {"y": "independent"}, "axis": {"y": "independent"}}
}
